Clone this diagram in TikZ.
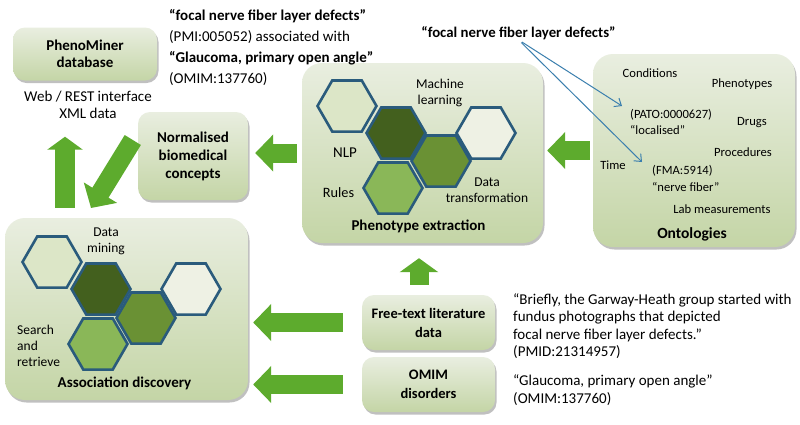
\documentclass[tikz,border=0pt]{standalone}
\usepackage{fontspec}
\setmainfont{Carlito}
\usetikzlibrary{arrows.meta,shapes.geometric,shadows}

\definecolor{boxtop}{HTML}{E9EEE0}
\definecolor{boxbot}{HTML}{C4D5A6}
\definecolor{hexline}{HTML}{2A5B7C}
\definecolor{hexpale}{HTML}{DCE6C7}
\definecolor{hexdark}{HTML}{43601E}
\definecolor{hexwhite}{HTML}{EEF1E4}
\definecolor{hexmid}{HTML}{6A9134}
\definecolor{hexlight}{HTML}{8AB758}
\definecolor{bigarrow}{HTML}{5DAB2D}
\definecolor{pointer}{HTML}{3B7FAE}

\tikzset{
  panel/.style={rounded corners=12pt, top color=boxtop, bottom color=boxbot, inner sep=0pt,
    drop shadow={shadow xshift=1.5pt, shadow yshift=-2.5pt, opacity=0.35, fill=black!70}},
  boxtitle/.style={font=\fontsize{15}{18}\selectfont\bfseries, align=center, inner sep=0pt},
  hexlabel/.style={font=\fontsize{13.5}{16}\selectfont, align=center, inner sep=0pt},
  hexcell/.style={regular polygon, regular polygon sides=6, minimum size=59pt, inner sep=0pt,
    draw=hexline, line width=2.6pt},
  ontolabel/.style={font=\fontsize{12.6}{16.5}\selectfont, align=left, inner sep=0pt},
  quotetext/.style={font=\fontsize{15}{17.3}\selectfont, align=left, inner sep=0pt},
  flow/.style={draw=bigarrow, line width=19pt, -{Triangle[width=36pt,length=18pt]}},
  pointerline/.style={draw=pointer, line width=1pt, -{Straight Barb[length=6pt,width=10pt]}}
}

\begin{document}
\begin{tikzpicture}[x=1pt,y=1pt,yscale=-1]
\fill[white] (0,0) rectangle (800,424);
\useasboundingbox (0,0) rectangle (800,424);

\node[panel, minimum width=144pt, minimum height=53pt, boxtitle, font=\fontsize{15}{17}\selectfont\bfseries] (pmdb) at (85,54) {PhenoMiner\\database};
\node[panel, minimum width=110pt, minimum height=88pt, boxtitle] (norm) at (193,156) {Normalised\\biomedical\\concepts};
\node[panel, rounded corners=20pt, minimum width=243pt, minimum height=182pt] (assoc) at (126.5,309) {};
\node[panel, rounded corners=20pt, minimum width=241pt, minimum height=180pt] (pheno) at (422.5,153) {};
\node[panel, rounded corners=20pt, minimum width=202pt, minimum height=193pt] (onto) at (694,150.5) {};
\node[panel, minimum width=133pt, minimum height=55pt, boxtitle, font=\fontsize{14.5}{19}\selectfont\bfseries] (free) at (428.5,322.5) {Free-text literature\\data};
\node[panel, minimum width=133pt, minimum height=55pt, boxtitle, font=\fontsize{14.5}{19}\selectfont\bfseries] (omim) at (428.5,384.5) {OMIM\\disorders};

\node[hexcell, fill=hexpale] (ah1) at (52,262) {};
\node[hexcell, fill=hexdark] (ah2) at (101,289) {};
\node[hexcell, fill=hexwhite] (ah3) at (191,289) {};
\node[hexcell, fill=hexmid] (ah4) at (146,318) {};
\node[hexcell, fill=hexlight] (ah5) at (98,344) {};

\node[hexcell, fill=hexpale] (ph1) at (347,106) {};
\node[hexcell, fill=hexdark] (ph2) at (396,133) {};
\node[hexcell, fill=hexwhite] (ph3) at (486,133) {};
\node[hexcell, fill=hexmid] (ph4) at (441,161) {};
\node[hexcell, fill=hexlight] (ph5) at (393,188) {};

\node[hexlabel] (amine) at (106,241) {Data\\mining};
\node[hexlabel, align=left, anchor=west] (asearch) at (17,346) {Search\\and\\retrieve};
\node[boxtitle] (atitle) at (124.5,383) {Association discovery};

\node[hexlabel] (pml) at (440,93) {Machine\\learning};
\node[hexlabel, font=\fontsize{15}{16}\selectfont] (pnlp) at (345,153) {NLP};
\node[hexlabel, font=\fontsize{14.3}{16}\selectfont] (prules) at (338.5,193) {Rules};
\node[hexlabel] (ptrans) at (487,190) {Data\\transformation};
\node[boxtitle] (ptitle) at (418.5,226) {Phenotype extraction};

\node[ontolabel] (ocond) at (650,73) {Conditions};
\node[ontolabel] (ophen) at (742,84) {Phenotypes};
\node[ontolabel, anchor=west] (opato) at (630,122) {(PATO:0000627)\\“localised"};
\node[ontolabel] (odrug) at (752,123) {Drugs};
\node[ontolabel] (oproc) at (743,152) {Procedures};
\node[ontolabel] (otime) at (613,165) {Time};
\node[ontolabel, anchor=west] (ofma) at (652,178.5) {(FMA:5914)\\“nerve fiber"};
\node[ontolabel] (olab) at (722,209) {Lab measurements};
\node[boxtitle, font=\fontsize{15.5}{18}\selectfont\bfseries] (otitle) at (692,234) {Ontologies};

\node[quotetext, font=\fontsize{15}{16.5}\selectfont, align=center] (iface) at (88,105) {Web / REST interface\\XML data};
\node[quotetext, font=\fontsize{15}{21}\selectfont, anchor=west] (pmiq) at (169,47.5) {\textbf{“focal nerve fiber layer defects”}\\(PMI:005052) associated with\\\textbf{“Glaucoma, primary open angle”}\\(OMIM:137760)};
\node[quotetext, font=\fontsize{14.8}{21}\selectfont\bfseries] (fq) at (518.5,33) {“focal nerve fiber layer defects”};
\node[quotetext, anchor=west] (pmidq) at (513,326) {“Briefly, the Garway-Heath group started with\\fundus photographs that depicted\\focal nerve fiber layer defects.”\\(PMID:21314957)};
\node[quotetext, anchor=west] (omimq) at (513,390) {“Glaucoma, primary open angle”\\(OMIM:137760)};

\coordinate (patotip) at (622,106);
\coordinate (fmatip) at (642,162);
\coordinate (dtip) at (91,208);

\draw[pointerline, shorten <=4pt] (fq.south) -- (patotip);
\draw[pointerline, shorten <=4pt] (fq.south) -- (fmatip);

\draw[flow, shorten <=3pt, shorten >=4pt] (onto.west) -- (onto.west -| pheno.east);
\draw[flow, shorten <=5pt, shorten >=7pt] (pheno.west) -- (pheno.west -| norm.east);
\draw[flow, -{Triangle[width=38pt,length=14pt]}, shorten <=10pt, shorten >=15pt] (free.north -| 419,0) -- (pheno.south -| 419,0);
\draw[flow, shorten <=19pt, shorten >=5pt] (free.west) -- (free.west -| assoc.east);
\draw[flow, shorten <=19pt, shorten >=5pt] (omim.west) -- (omim.west -| assoc.east);
\draw[flow, line width=20pt, -{Triangle[width=35pt,length=13pt]}, shorten <=10pt, shorten >=18pt] (assoc.north -| 65,0) -- (iface.south -| 65,0);
\draw[flow, -{Triangle[width=38pt,length=18pt]}] ([xshift=-5pt,yshift=-16pt]norm.west) -- (dtip);

\end{tikzpicture}
\end{document}
